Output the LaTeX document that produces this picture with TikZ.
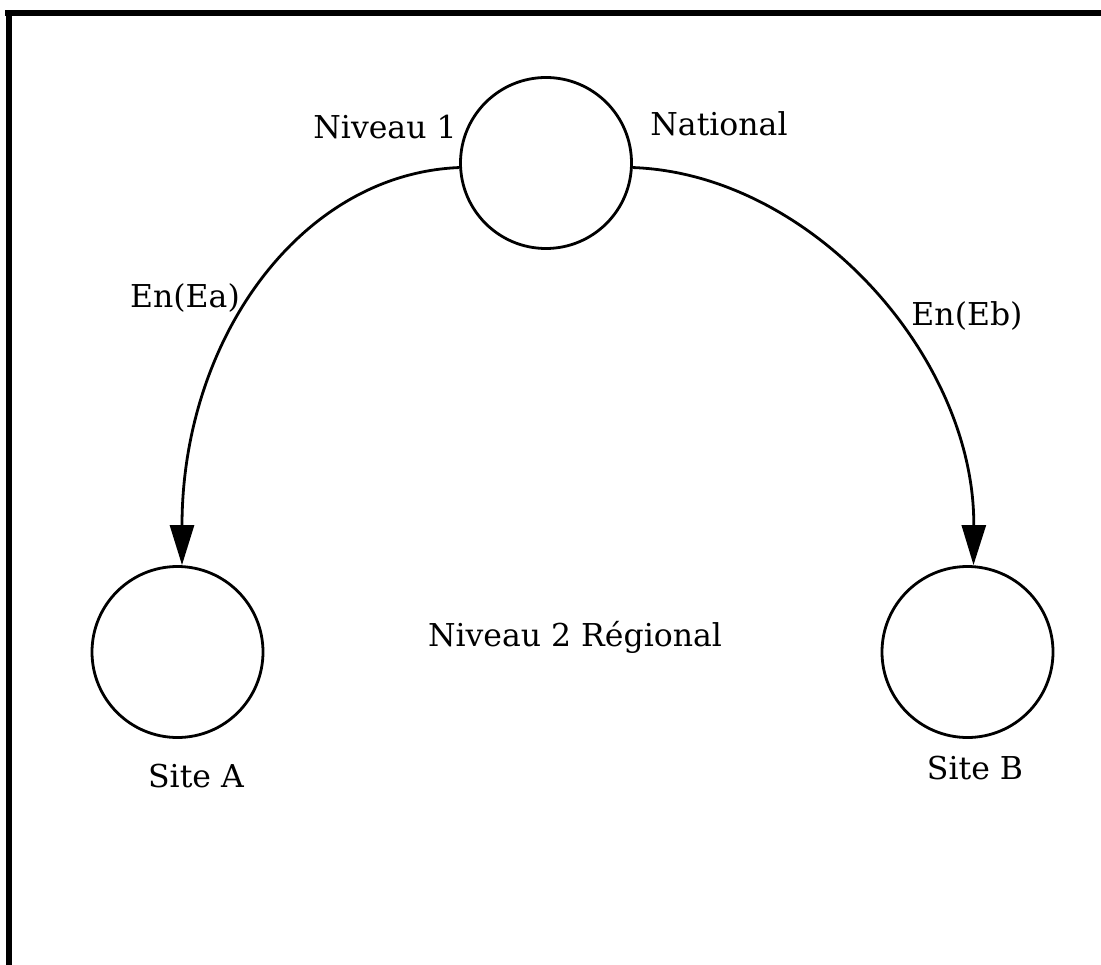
\documentclass[tikz,border=0pt]{standalone}
\usepackage{fontspec}
\setmainfont{DejaVu Serif}
\usetikzlibrary{arrows.meta}
\begin{document}
\begin{tikzpicture}[x=1pt,y=-1pt,
  site/.style={circle,draw,line width=2.8pt,minimum size=171pt,inner sep=0pt},
  lbl/.style={font=\fontsize{31.5}{36}\selectfont,inner sep=0pt},
  link/.style={line width=2.8pt,-{Triangle[length=40pt,width=24pt]}},
  frame/.style={line width=6pt}]
\useasboundingbox (0,0) rectangle (1101,965);
\fill[white] (0,0) rectangle (1101,965);
\draw[frame] (5,13.5) -- (1101,13.5);
\draw[frame] (8.5,10.5) -- (8.5,965);
\node[site] (nat) at (546,163) {};
\node[site] (a) at (177.5,652) {};
\node[site] (b) at (967.5,652) {};
\draw[link] (nat.183) .. controls (300,174) and (182,340) .. ([xshift=4.5pt]a.north);
\draw[link] (nat.357) .. controls (812,174) and (975,358) .. ([xshift=6pt]b.north);
\node[lbl] (n1) at (385,127) {Niveau 1};
\node[lbl] (nt) at (719,124) {National};
\node[lbl] (ea) at (185,298) {En(Ea)};
\node[lbl] (eb) at (967,316) {En(Eb)};
\node[lbl] (n2) at (575,637) {Niveau 2 Régional};
\node[lbl] (sa) at (196,776) {Site A};
\node[lbl] (sb) at (975,768) {Site B};
\end{tikzpicture}
\end{document}
